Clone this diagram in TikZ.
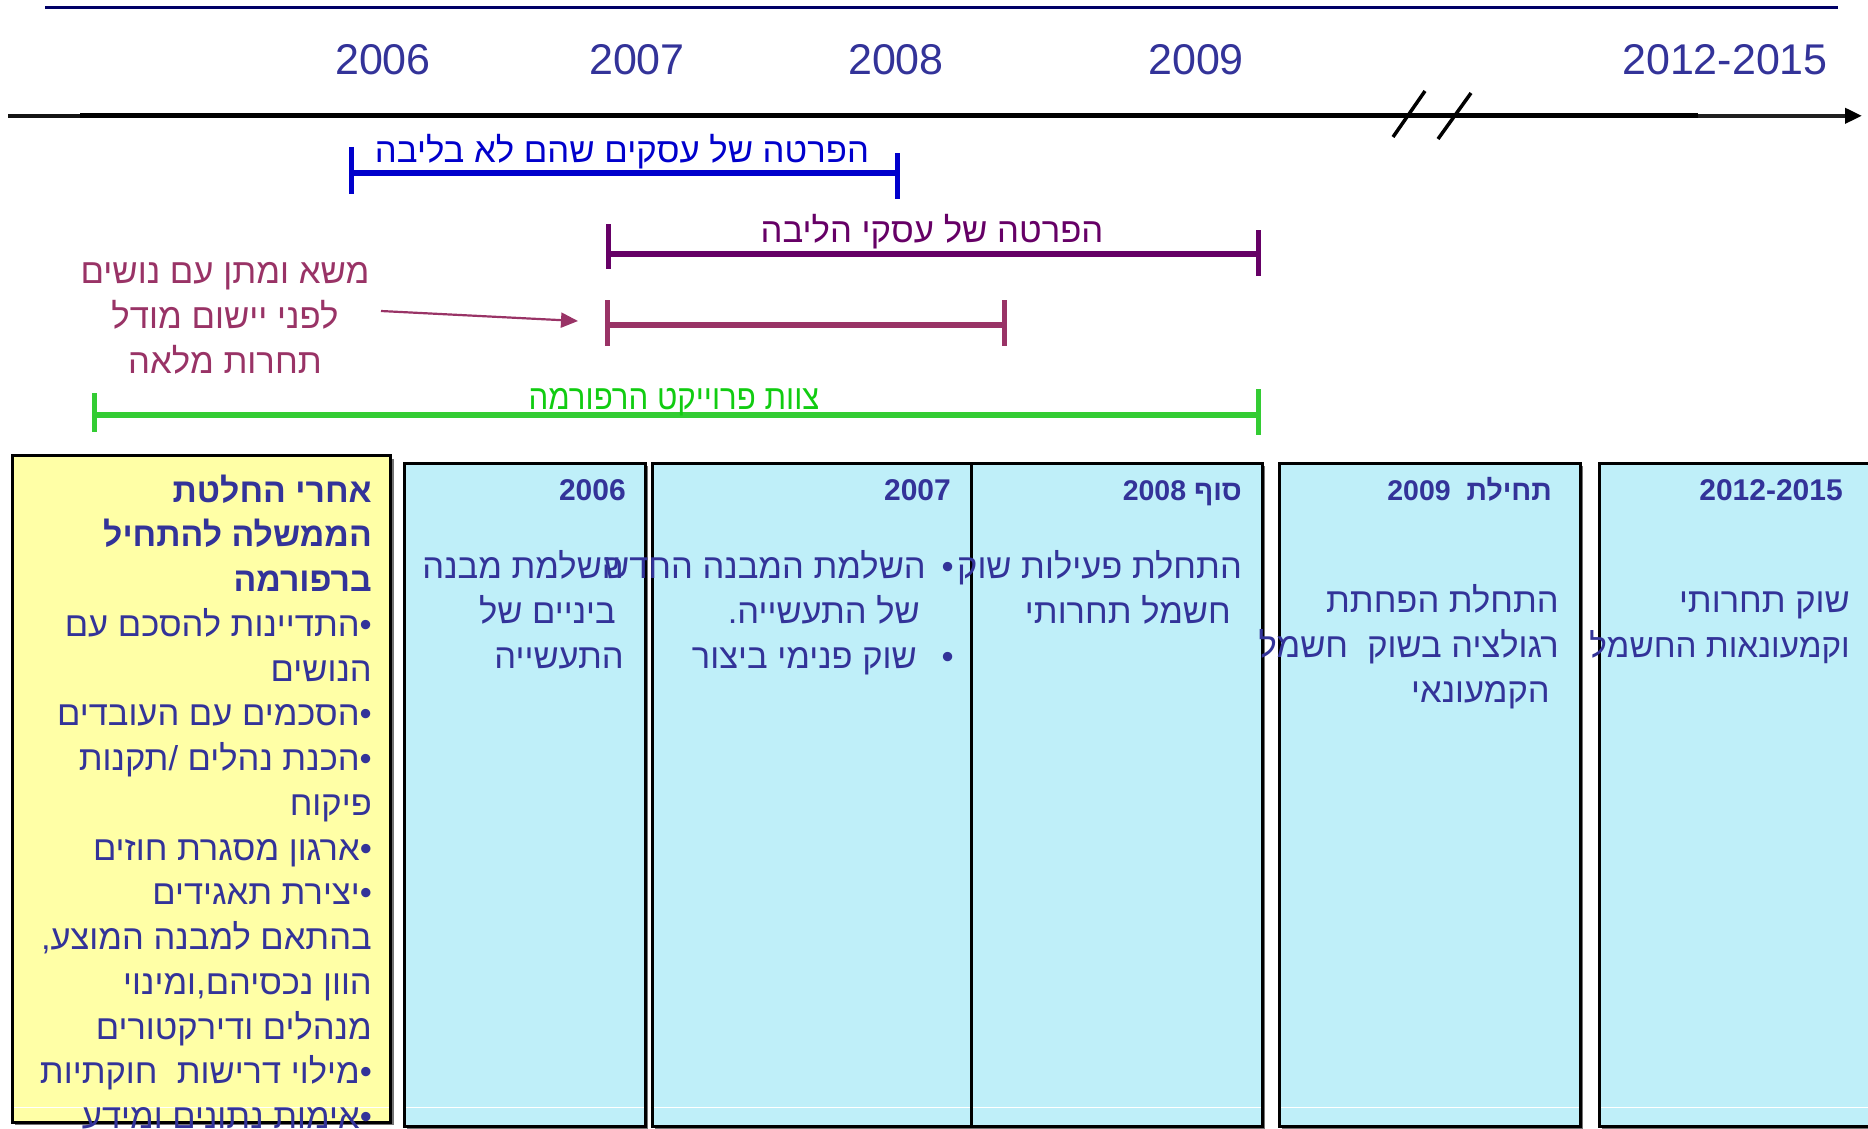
\documentclass[tikz,border=0pt]{standalone}
\usepackage{fontspec}
\setmainfont{Liberation Sans}
\newfontfamily\heb[Script=Hebrew]{Liberation Sans}
\newfontfamily\hebnarrow[Script=Hebrew,FakeStretch=0.9]{Liberation Sans}
\TeXXeTstate=1
\usetikzlibrary{arrows.meta}

\definecolor{navy}{HTML}{000066}
\definecolor{ink}{HTML}{333399}
\definecolor{barblue}{HTML}{0000CC}
\definecolor{barpurple}{HTML}{660066}
\definecolor{barrose}{HTML}{993366}
\definecolor{bargreen}{HTML}{33CC33}
\definecolor{textgreen}{HTML}{11CC11}
\definecolor{notefill}{HTML}{FFFFA6}
\definecolor{stagefill}{HTML}{BFEFF9}

% right-to-left and left-to-right runs
\newcommand{\rl}[1]{\beginR #1\endR}
\newcommand{\lr}[1]{\beginL #1\endL}

\begin{document}
\begin{tikzpicture}[x=1pt,y=-1pt,
  yearlbl/.style={font=\fontsize{43}{50}\selectfont, text=ink, inner sep=0, anchor=base},
  bar/.style={line width=6pt, line cap=butt},
  endtick/.style={line width=5pt, line cap=butt},
  barlabel/.style={font=\heb\fontsize{34.7}{40}\selectfont, inner sep=0, anchor=base},
  notelabel/.style={font=\heb\fontsize{34.7}{40}\selectfont, text=barrose, inner sep=0, anchor=base},
  teamlabel/.style={font=\hebnarrow\fontsize{34.7}{40}\selectfont, text=textgreen, inner sep=0, anchor=base},
  frame/.style={draw=black, line width=3pt},
  boxshadow/.style={fill=black!55},
  stagehead/.style={font=\heb\bfseries\fontsize{30}{36}\selectfont, text=ink, inner sep=0, anchor=base east},
  stageheadmix/.style={font=\heb\bfseries\fontsize{28.5}{36}\selectfont, text=ink, inner sep=0, anchor=base east},
  stagetext/.style={font=\heb\fontsize{34.5}{40}\selectfont, text=ink, inner sep=0, anchor=base east},
  notetext/.style={font=\heb\fontsize{34.5}{40}\selectfont, text=ink, inner sep=0, anchor=base east},
  notehead/.style={font=\heb\bfseries\fontsize{33.8}{40}\selectfont, text=ink, inner sep=0, anchor=base east},
]
\useasboundingbox (0,0) rectangle (1868,1129);
\fill[white] (0,0) rectangle (1868,1129);

% top rule
\draw[navy, line width=3pt] (45,7.5) -- (1838,7.5);

% year scale
\node[yearlbl] (y06) at (383,74.5) {2006};
\node[yearlbl] (y07) at (637,74.5) {2007};
\node[yearlbl] (y08) at (896,74.5) {2008};
\node[yearlbl] (y09) at (1196,74.5) {2009};
\node[yearlbl] (y12) at (1725,74.5) {2012-2015};

% time axis with a break
\coordinate (axL) at (8,115.8);
\coordinate (axA) at (80,115.8);
\coordinate (axB) at (1698,115.8);
\coordinate (axR) at (1862,115.8);
\draw[line width=4.5pt, black!92] (axL) -- (axA);
\draw[line width=5pt] (axA) -- (axB);
\draw[line width=4pt, black!88, -{Triangle[length=17pt,width=15pt,color=black,fill=black]}] (axB) -- (axR);
\draw[line width=3.5pt] (1393,137) -- (1425,91);
\draw[line width=3.5pt] (1438,139) -- (1471,93);

% privatisation of non-core businesses
\coordinate (bL) at (351,172.7);
\coordinate (bR) at (897,172.7);
\draw[bar, barblue] (bL) -- (bR);
\draw[endtick, barblue] (bL) ++(0,-25.7) -- ++(0,47);
\draw[endtick, barblue] (bR) ++(0,-19.7) -- ++(0,46);
\node[barlabel, text=barblue] (lblB) at (622,162) {\rl{הפרטה של עסקים שהם לא בליבה}};

% privatisation of core businesses
\coordinate (pL) at (608,254);
\coordinate (pR) at (1258,254);
\draw[bar, barpurple] (pL) -- (pR);
\draw[endtick, barpurple] (pL) ++(0,-30) -- ++(0,45);
\draw[endtick, barpurple] (pR) ++(0,-24) -- ++(0,46);
\node[barlabel, text=barpurple] (lblP) at (932,242) {\rl{הפרטה של עסקי הליבה}};

% creditor negotiations
\coordinate (rL) at (607,325);
\coordinate (rR) at (1004,325);
\draw[bar, barrose] (rL) -- (rR);
\draw[endtick, barrose] (rL) ++(0,-25) -- ++(0,46);
\draw[endtick, barrose] (rR) ++(0,-25) -- ++(0,46);
\node[notelabel] (nt1) at (225,283) {\rl{משא ומתן עם נושים}};
\node[notelabel] (nt2) at (225,328) {\rl{לפני יישום מודל}};
\node[notelabel] (nt3) at (225,373) {\rl{תחרות מלאה}};
\coordinate (aS) at (381,311);
\coordinate (aE) at (578,321);
\draw[line width=2.2pt, barrose, -{Triangle[length=17pt,width=15pt]}] (aS) -- (aE);

% reform project team
\coordinate (gL) at (94,415);
\coordinate (gR) at (1258,415);
\draw[bar, bargreen] (gL) -- (gR);
\draw[endtick, bargreen] (gL) ++(0,-22) -- ++(0,39);
\draw[endtick, bargreen] (gR) ++(0,-26) -- ++(0,46);
\node[teamlabel] (lblG) at (674,409) {\rl{צוות פרוייקט הרפורמה}};

% boxes: shadows, fills
\fill[boxshadow] (15,458.5) rectangle (393.5,1125);
\fill[notefill] (12.5,455.5) rectangle (390.5,1122);
\foreach \a/\b in {404.5/645, 652.5/1262, 1279/1580, 1599/1890}{
  \fill[boxshadow] (\a+2.5,466) rectangle (\b+2.5,1129);
  \fill[stagefill] (\a,463.5) rectangle (\b,1126);
}
% thin light rule near the bottom
\draw[white, line width=1.2pt] (14,1107.5) -- (389,1107.5);
\foreach \a/\b in {406/643.5, 654/1260.5, 1280.5/1578.5, 1600.5/1890}{
  \draw[white, line width=1.2pt] (\a,1107.5) -- (\b,1107.5);
}

% box frames
\draw[frame] (12.5,455.5) rectangle (390.5,1122);
\draw[frame] (404.5,463.5) rectangle (645,1126);
\draw[frame] (652.5,463.5) rectangle (1262,1126);
\draw[frame] (971,463.5) -- (971,1126);
\draw[frame] (1279,463.5) rectangle (1580,1126);
\draw[frame] (1599,463.5) rectangle (1890,1126);

% government decision box
\node[notehead] (n1) at (372,502) {\rl{אחרי החלטת}};
\node[notehead] (n2) at (372,546.8) {\rl{הממשלה להתחיל}};
\node[notehead] (n3) at (372,591.5) {\rl{ברפורמה}};
\node[notetext] (n4) at (372,636.3) {\rl{•התדיינות להסכם עם}};
\node[notetext] (n5) at (372,681) {\rl{הנושים}};
\node[notetext] (n6) at (372,725.8) {\rl{•הסכמים עם העובדים}};
\node[notetext] (n7) at (372,770.6) {\rl{•הכנת נהלים /תקנות}};
\node[notetext] (n8) at (372,815.3) {\rl{פיקוח}};
\node[notetext] (n9) at (372,860) {\rl{•ארגון מסגרת חוזים}};
\node[notetext] (n10) at (372,904.8) {\rl{•יצירת תאגידים}};
\node[notetext] (n11) at (372,949.6) {\rl{בהתאם למבנה המוצע,}};
\node[notetext] (n12) at (372,994.3) {\rl{הוון נכסיהם,ומינוי}};
\node[notetext] (n13) at (372,1039) {\rl{מנהלים ודירקטורים}};
\node[notetext] (n14) at (372,1083.8) {\rl{•מילוי דרישות\ \ חוקתיות}};
\node[notetext] (n15) at (372,1128.6) {\rl{•אימות נתונים ומידע}};

% stage headers
\node[stagehead] (h1) at (626,500.5) {2006};
\node[stagehead] (h2) at (951,500.5) {2007};
\node[stageheadmix] (h3) at (1242,500.5) {\rl{סוף \lr{2008}}};
\node[stageheadmix] (h4) at (1552,500.5) {\rl{תחילת\ \ \lr{2009}}};
\node[stagehead] (h5) at (1843,500.5) {2012-2015};

% stage texts
\node[stagetext] (s1a) at (624,578) {\rl{השלמת מבנה}};
\node[stagetext] (s1b) at (616,623) {\rl{ביניים של}};
\node[stagetext] (s1c) at (624,668) {\rl{התעשייה}};

\node[stagetext] (s2d) at (954,578) {•};
\node[stagetext] (s2a) at (926,578) {\rl{השלמת המבנה החדש}};
\node[stagetext] (s2b) at (920,623) {\rl{של התעשייה.}};
\node[stagetext] (s2e) at (954,668) {•};
\node[stagetext] (s2c) at (917,668) {\rl{שוק פנימי ביצור}};

\node[stagetext] (s3a) at (1242,578) {\rl{התחלת פעילות שוק}};
\node[stagetext] (s3b) at (1231,623) {\rl{חשמל תחרותי}};

\node[stagetext] (s4a) at (1559,612) {\rl{התחלת הפחתת}};
\node[stagetext] (s4b) at (1559,657) {\rl{רגולציה בשוק\ \ חשמל}};
\node[stagetext] (s4c) at (1550,702) {\rl{הקמעונאי}};

\node[stagetext] (s5a) at (1850,612) {\rl{שוק תחרותי}};
\node[stagetext, font=\heb\fontsize{33.2}{40}\selectfont] (s5b) at (1850,657) {\rl{וקמעונאות החשמל}};
\end{tikzpicture}
\end{document}
